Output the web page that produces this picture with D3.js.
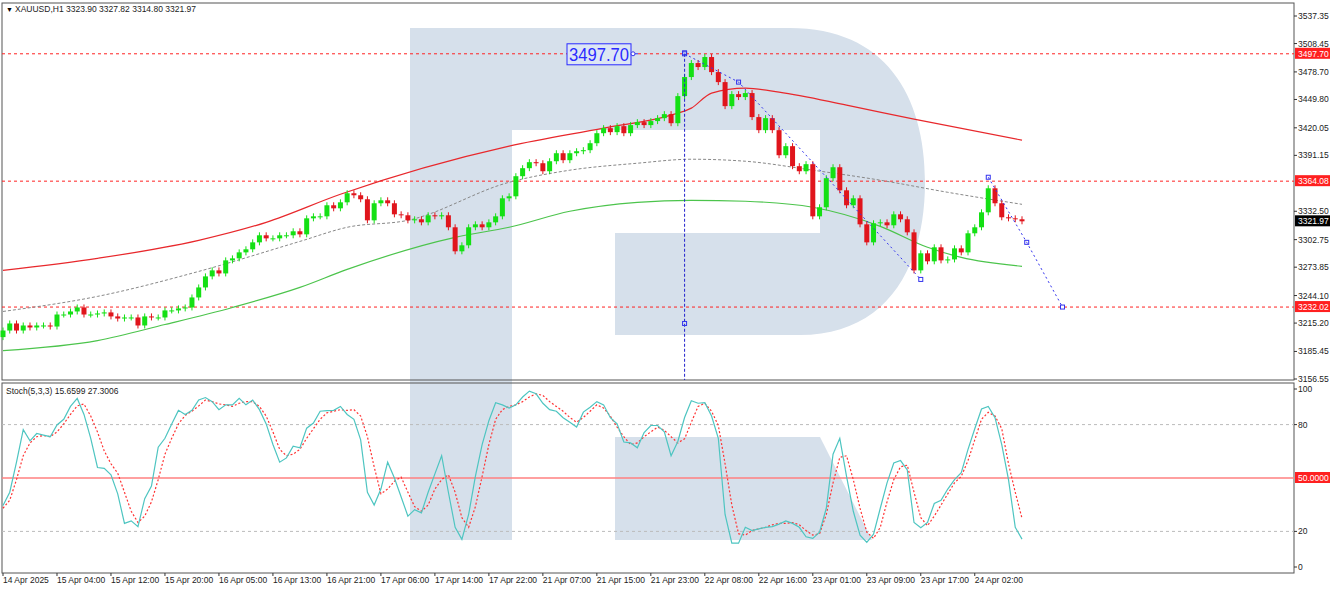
<!DOCTYPE html>
<html><head><meta charset="utf-8">
<script src="https://cdn.jsdelivr.net/npm/d3@7"></script>
<style>body{margin:0;background:#fff}svg{display:block;font-family:"Liberation Sans",Arial,sans-serif}</style>
</head><body><svg id="c" width="1332" height="590"></svg>
<script>
const closes=[3207.4,3214.8,3207.4,3212.7,3210.6,3212.7,3212.7,3211.6,3224.2,3224.2,
3227.4,3231.6,3224.2,3224.2,3225.3,3226.4,3222.2,3220.0,3221.1,3221.1,
3212.7,3222.2,3221.1,3221.1,3228.5,3228.5,3230.6,3231.6,3242.1,3252.6,
3264.2,3270.5,3267.3,3281.0,3283.1,3289.4,3292.6,3299.9,3307.3,3304.1,
3304.1,3307.3,3307.3,3311.5,3308.3,3325.1,3327.2,3327.2,3338.8,3335.6,
3341.9,3351.4,
3349.3,3345.1,3323.0,3340.9,3344.0,3340.9,3329.3,3328.3,3323.0,3324.1,
3320.9,3328.3,3327.2,3328.3,3315.7,3290.5,3296.8,3315.7,3318.8,3315.7,
3320.9,3327.2,3346.1,3348.2,3369.3,3377.7,3384.0,3382.9,3374.5,3385.0,
3393.4,3386.1,3393.4,3395.5,3396.6,3403.9,3414.4,3419.7,3415.5,3421.8,
3414.4,3422.9,3426.0,3422.9,3427.1,3430.2,3434.4,3424.9,3453.3,3473.3,
3488.0,3483.8,3494.3,3478.5,3468.0,3442.8,3455.4,3452.3,3456.5,3431.3,
3417.6,3430.2,3417.6,3391.3,3400.8,3379.8,3374.5,3381.9,3327.2,3336.7,
3367.2,3378.7,3354.5,3338.8,3346.1,3318.8,3299.9,3319.9,3320.9,3317.8,
3329.3,3324.1,3310.4,3270.5,3288.4,3280.0,3294.7,3281.0,3282.0,3293.6,
3289.4,3309.4,3315.7,3331.4,3356.6,3340.9,3326.2,3325.1,3324.1,3321.97];
const firstOpen=3200.5;
const maRedIdx=[0,14,29,39,50,75,89,99,102,105,110,115,125,135,151];
const maRedVal=[3270.5,3283.1,3302.0,3320.9,3350.3,3400.8,3419.7,3433.4,3440.7,3456.5,3461.7,3457.5,3443.9,3429.1,3407.1];
const maGreenIdx=[0,14,24,34,44,51,67,75,84,94,102,110,120,130,137,142,151];
const maGreenVal=[3186.4,3196.9,3213.7,3231.6,3252.6,3271.5,3305.2,3315.7,3332.5,3341.9,3344.0,3343.0,3336.7,3316.7,3294.7,3284.1,3274.7];
const maGrayIdx=[0,14,29,44,51,60,75,84,94,102,110,120,130,140,151];
const maGrayVal=[3227.4,3243.2,3269.4,3300.9,3315.7,3323.0,3362.9,3375.6,3382.9,3387.1,3385.0,3375.6,3365.1,3352.4,3339.8];
const stochK=[34.5,42.0,58.9,77.2,70.9,75.0,74.1,73.2,79.8,83.0,90.2,94.7,85.7,72.3,55.9,55.4,51.8,41.1,24.5,25.9,
22.7,38.4,45.5,67.3,72.3,80.4,88.0,85.7,88.0,93.8,95.2,92.9,88.4,91.1,91.1,94.7,91.1,93.8,88.4,80.4,
68.8,58.9,61.3,67.9,67.0,78.0,80.9,87.5,87.9,88.0,90.2,85.7,
83.0,71.4,42.0,34.8,43.8,58.9,50.0,39.3,28.6,32.2,30.4,42.0,52.3,62.5,42.0,22.3,15.5,29.5,50.9,68.8,
82.2,92.3,91.1,89.3,91.1,95.5,98.8,97.3,92.0,88.4,87.5,83.9,81.3,78.6,87.0,89.8,92.9,91.1,83.9,80.4,
70.2,69.7,67.0,75.5,79.5,79.5,75.9,62.5,70.5,84.0,
93.4,92.0,92.3,84.8,72.3,29.5,13.4,13.4,22.3,20.5,21.4,22.3,22.7,24.1,25.9,24.5,22.3,17.0,16.1,19.6,
33.0,63.4,72.3,50.9,31.3,17.9,13.8,18.4,33.0,47.3,58.4,59.8,54.5,25.0,22.0,25.0,35.7,37.5,43.8,49.1,
53.0,66.1,77.7,88.8,90.2,83.9,68.8,49.1,22.3,15.66];
const stochD=[33.0,37.5,49.1,62.5,69.7,73.2,73.8,73.2,75.9,80.4,85.7,90.5,91.6,84.8,75.9,65.2,58.0,52.7,42.0,31.3,
25.0,28.6,36.6,49.1,63.4,72.3,80.4,85.2,87.5,90.5,93.8,92.9,91.6,91.1,90.2,92.0,92.9,92.9,90.2,84.8,
75.9,66.1,62.5,63.4,66.1,72.3,77.7,83.0,86.6,87.5,88.4,88.0,
88.4,84.8,73.2,56.3,41.1,43.8,48.2,50.5,42.0,33.9,31.3,34.8,43.8,49.1,51.8,42.0,27.7,22.3,33.9,50.9,
68.8,83.0,88.4,90.2,91.1,92.9,95.5,97.3,96.4,92.9,90.2,87.5,84.0,81.3,84.0,87.5,91.1,89.3,84.8,78.6,
73.2,68.8,69.7,73.2,75.9,78.6,76.8,73.2,69.7,72.0,
81.3,90.2,92.0,87.5,79.5,58.0,34.8,18.7,17.9,20.5,21.4,22.3,23.7,24.5,24.5,25.0,23.7,20.5,17.9,18.7,
29.5,47.3,61.6,62.5,49.1,33.0,19.6,16.1,22.3,36.6,49.1,56.3,57.2,42.0,27.7,23.2,28.6,34.8,41.1,47.3,
50.9,59.8,71.4,83.0,86.9,84.8,77.7,58.0,42.0,27.3];
const priceTicks=[3537.35,3508.45,3478.70,3449.80,3420.05,3391.15,3332.50,3302.75,3273.85,3244.10,3215.20,3185.45,3156.55];
const levels=[3497.70,3364.08,3232.02];
const lastPrice=3321.97;
const timeLabels=["14 Apr 2025","15 Apr 04:00","15 Apr 12:00","15 Apr 20:00","16 Apr 05:00","16 Apr 13:00","16 Apr 21:00","17 Apr 06:00","17 Apr 14:00","17 Apr 22:00","21 Apr 07:00","21 Apr 15:00","21 Apr 23:00","22 Apr 08:00","22 Apr 16:00","23 Apr 01:00","23 Apr 09:00","23 Apr 17:00","24 Apr 02:00"];
const labelStep=8;
const fcIdx1=[101,109,136], fcVal1=[3497.70,3468.0,3261.0];
const fcIdx2=[146,151.7,157], fcVal2=[3368.2,3299.9,3232.02];
const vertIdx=101, vertMarker=3214.8;
const stochTicks=[100,80,50,20,0];

const svg=d3.select("#c");
const L=2,R=1294,T=3,B=380,ST=383,SB=573;
const FS=8.5;
const x=d3.scaleLinear().domain([0,151]).range([3,1022]);
const y=d3.scaleLinear().domain([3156.55,3537.35]).range([379,16]);
const ys=d3.scaleLinear().domain([0,100]).range([567,389]);

// watermark
const wm="#d6e0eb";
svg.append("path").attr("fill",wm).attr("d","M410,28 H790 C885,28 925,95 925,182 C925,270 885,335 800,335 H615 V233 H820 V130 H512 V540 H410 Z");
svg.append("path").attr("fill",wm).attr("d","M615,437 H820 L872,540 H615 Z");

svg.append("rect").attr("x",L).attr("y",T).attr("width",R-L).attr("height",B-T).attr("fill","none").attr("stroke","#555");
svg.append("rect").attr("x",L).attr("y",ST).attr("width",R-L).attr("height",SB-ST).attr("fill","none").attr("stroke","#555");

const main=svg.append("g");
levels.forEach(v=>{
 main.append("line").attr("x1",L).attr("x2",R).attr("y1",y(v)).attr("y2",y(v)).attr("stroke","#f22").attr("stroke-dasharray","3,3");
});
const line=d3.line().curve(d3.curveMonotoneX);
main.append("path").attr("d",line(maGreenIdx.map((d,i)=>[x(d),y(maGreenVal[i])]))).attr("fill","none").attr("stroke","#4cc44c").attr("stroke-width",1.2);
main.append("path").attr("d",line(maGrayIdx.map((d,i)=>[x(d),y(maGrayVal[i])]))).attr("fill","none").attr("stroke","#888").attr("stroke-dasharray","3,2");
main.append("path").attr("d",line(maRedIdx.map((d,i)=>[x(d),y(maRedVal[i])]))).attr("fill","none").attr("stroke","#e8282c").attr("stroke-width",1.2);

closes.forEach((c,i)=>{
 const o=i?closes[i-1]:firstOpen;
 const up=c>=o, col=up?"#14e014":"#e0151c";
 const top=y(Math.max(o,c)), bot=y(Math.min(o,c));
 const cx=x(i);
 main.append("line").attr("x1",cx).attr("x2",cx).attr("y1",top-3).attr("y2",bot+3).attr("stroke",col);
 main.append("rect").attr("x",cx-2.5).attr("y",top).attr("width",5).attr("height",Math.max(1,bot-top)).attr("fill",col);
});

const fc="#3333ee";
[[fcIdx1,fcVal1],[fcIdx2,fcVal2]].forEach(([ix,vv])=>{
 main.append("path").attr("d",d3.line()(ix.map((d,i)=>[x(d),y(vv[i])]))).attr("fill","none").attr("stroke",fc).attr("stroke-dasharray","2,3");
 ix.forEach((d,i)=>main.append("rect").attr("x",x(d)-2).attr("y",y(vv[i])-2).attr("width",4).attr("height",4).attr("fill","none").attr("stroke",fc));
});
main.append("line").attr("x1",x(vertIdx)).attr("x2",x(vertIdx)).attr("y1",y(levels[0])).attr("y2",B).attr("stroke","#2222cc").attr("stroke-dasharray","3,2");
main.append("rect").attr("x",x(vertIdx)-2).attr("y",y(vertMarker)-2).attr("width",4).attr("height",4).attr("fill","none").attr("stroke",fc);
main.append("rect").attr("x",x(vertIdx)-2).attr("y",y(levels[0])-3).attr("width",4).attr("height",4).attr("fill","none").attr("stroke",fc);
const ly=y(levels[0]);
main.append("rect").attr("x",567).attr("y",ly-10).attr("width",64).attr("height",21).attr("fill","#dde6f4").attr("stroke","#2a2aff");
main.append("text").attr("x",599).attr("y",ly+7).attr("text-anchor","middle").attr("font-size",18).attr("textLength",60).attr("lengthAdjust","spacingAndGlyphs").attr("fill","#2a2aff").text(levels[0].toFixed(2));
main.append("line").attr("x1",631).attr("x2",638).attr("y1",ly).attr("y2",ly).attr("stroke",fc);
main.append("circle").attr("cx",633).attr("cy",ly).attr("r",2).attr("fill","#fff").attr("stroke",fc);

svg.append("text").attr("x",6).attr("y",12).attr("font-size",7).text("▼");
svg.append("text").attr("x",15).attr("y",12).attr("font-size",FS).attr("fill","#222").text("XAUUSD,H1  3323.90 3327.82 3314.80 3321.97");

const ax=svg.append("g").attr("font-size",FS).attr("fill","#222");
priceTicks.forEach(v=>{
 ax.append("line").attr("x1",R).attr("x2",R+3).attr("y1",y(v)).attr("y2",y(v)).attr("stroke","#333");
 ax.append("text").attr("x",1298).attr("y",y(v)+3).text(v.toFixed(2));
});
function tag(v,yy,bg,fg,txt){
 ax.append("rect").attr("x",1295).attr("y",yy-6).attr("width",35).attr("height",11).attr("fill",bg);
 ax.append("text").attr("x",1298).attr("y",yy+3).attr("fill",fg).text(txt);
}
levels.forEach(v=>tag(v,y(v),"#ff2020","#fff",v.toFixed(2)));
tag(lastPrice,y(lastPrice),"#000","#fff",lastPrice.toFixed(2));

const sg=svg.append("g");
[80,20].forEach(v=>sg.append("line").attr("x1",L).attr("x2",R).attr("y1",ys(v)).attr("y2",ys(v)).attr("stroke","#bbb").attr("stroke-dasharray","3,3"));
sg.append("line").attr("x1",L).attr("x2",R).attr("y1",ys(50)).attr("y2",ys(50)).attr("stroke","#ff8080").attr("stroke-width",1.5);
const sl=d3.line().x((d,i)=>x(i)).y(d=>ys(d));
sg.append("path").attr("d",sl(stochD)).attr("fill","none").attr("stroke","#f33").attr("stroke-dasharray","2,2").attr("stroke-width",1.2);
sg.append("path").attr("d",sl(stochK)).attr("fill","none").attr("stroke","#4ec5c1").attr("stroke-width",1.2);
sg.append("text").attr("x",6).attr("y",394).attr("font-size",FS).attr("fill","#222").text("Stoch(5,3,3) 15.6599 27.3006");
stochTicks.forEach(v=>{
 if(v===50){
  sg.append("rect").attr("x",1295).attr("y",ys(v)-6).attr("width",35).attr("height",11).attr("fill","#ff2020");
  sg.append("text").attr("x",1298).attr("y",ys(v)+3).attr("font-size",FS).attr("fill","#fff").text("50.0000");
 } else {
  sg.append("line").attr("x1",R).attr("x2",R+3).attr("y1",ys(v)).attr("y2",ys(v)).attr("stroke","#333");
  sg.append("text").attr("x",1298).attr("y",ys(v)+3).attr("font-size",FS).attr("fill","#222").text(v);
 }
});
timeLabels.forEach((t,k)=>{
 const xx=x(k*labelStep);
 svg.append("line").attr("x1",xx).attr("x2",xx).attr("y1",SB).attr("y2",SB+3).attr("stroke","#333");
 svg.append("text").attr("x",xx).attr("y",583).attr("font-size",FS).attr("fill","#222").text(t);
});
</script></body></html>
